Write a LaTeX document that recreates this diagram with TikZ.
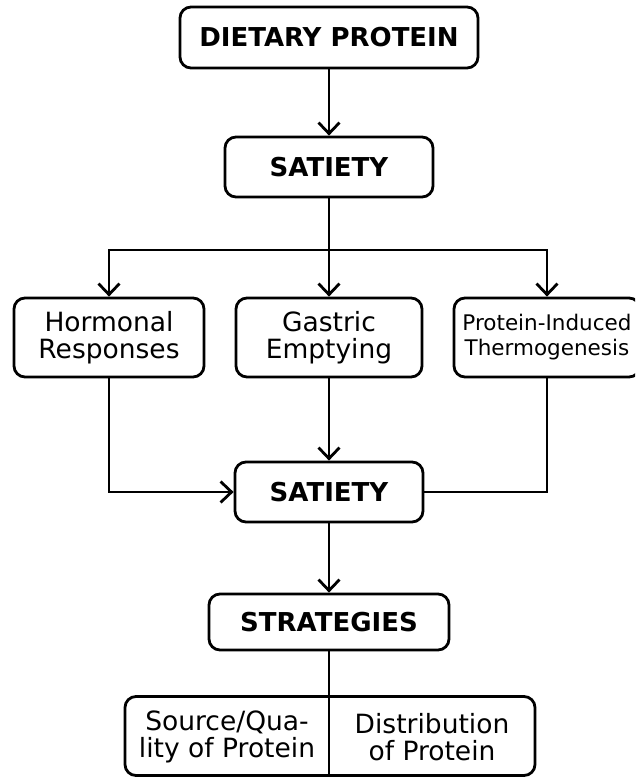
\documentclass[tikz,border=0pt]{standalone}
\usepackage{fontspec}
\setmainfont{DejaVu Sans}
\usetikzlibrary{arrows.meta}
\tikzset{
    box/.style={draw, line width=2.8pt, rounded corners=11pt, align=center, inner sep=0pt},
    head/.style={font=\bfseries\fontsize{26}{28}\selectfont},
    body/.style={font=\fontsize{26.5}{27.5}\selectfont},
    arr/.style={-{Straight Barb[length=11pt,width=21pt,line width=2.8pt]}},
}
\begin{document}
\begin{tikzpicture}[x=1pt, y=-1pt, line width=2.8pt]
        \useasboundingbox (0,0) rectangle (635,777);
        \clip (0,0) rectangle (635,777);
        \coordinate (split) at (329,250);
        \node[box, head, minimum width=298pt, minimum height=61pt] (diet) at (329,37.5) {DIETARY PROTEIN};
        \node[box, head, minimum width=208pt, minimum height=60pt] (sat1) at (329,167) {SATIETY};
        \node[box, body, minimum width=190pt, minimum height=79pt] (horm) at (109,337.5) {Hormonal\\Responses};
        \node[box, body, minimum width=186pt, minimum height=79pt] (gast) at (329,337.5) {Gastric\\Emptying};
        \node[box, font=\fontsize{21.5}{25}\selectfont, minimum width=186pt, minimum height=79pt] (therm) at (547,337.5) {Protein-Induced\\Thermogenesis};
        \node[box, head, minimum width=188pt, minimum height=60pt] (sat2) at (329,492) {SATIETY};
        \node[box, head, minimum width=240pt, minimum height=56pt] (strat) at (329,622) {STRATEGIES};
        \node[box, minimum width=410pt, minimum height=79pt] (opts) at (330,736) {};
        \node[body, align=center] (src) at (227,737) {Source/Qua-\\lity of Protein};
        \node[body, align=center] (dist) at (432,737) {Distribution\\of Protein};
        \draw[arr] (diet) -- (sat1);
        \draw (sat1) -- (split);
        \foreach \n in {horm, gast, therm} {
            \draw[arr] (split) -| (\n.north);
        }
        \draw[arr] (horm.south) |- (sat2.west);
        \draw[arr] (gast) -- (sat2);
        \draw (therm.south) |- (sat2.east);
        \draw[arr] (sat2) -- (strat);
        \draw (strat.south) -- (strat.south |- opts.south);
    \end{tikzpicture}
\end{document}
